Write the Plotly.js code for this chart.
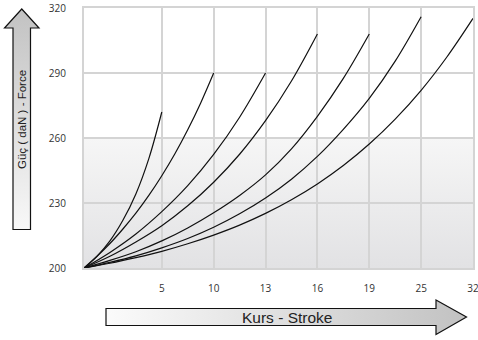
<!DOCTYPE html>
<html>
<head>
<meta charset="utf-8">
<script src="https://cdn.plot.ly/plotly-3.0.1.min.js"></script>
<style>html,body{margin:0;padding:0;background:#fff;}#chart{width:478px;height:340px;}</style>
</head>
<body>
<div id="chart"></div>
<script>
// Stroke tick positions (evenly spaced categories) and their labels
const strokeTicks = [1, 2, 3, 4, 5, 6, 7];
const strokeLabels = ['5', '10', '13', '16', '19', '25', '32'];
const forceTicks = [200, 230, 260, 290, 320];

// Curve data: x = position on the stroke axis, y = force (daN)
const c5x  = [-0.5, -0.25, 0, 0.25, 0.5, 0.75, 1.0];
const c5y  = [200, 205.4, 212.5, 222, 234.2, 250.5, 272];

const c10x = [-0.5, -0.25, 0, 0.25, 0.5, 0.75, 1, 1.25, 1.5, 1.75, 2];
const c10y = [200, 205.4, 211.3, 218, 225.3, 233.5, 242.6, 252.6, 263.8, 276.2, 290];

const c13x = [-0.5, 0, 0.5, 1, 1.5, 2, 2.5, 3];
const c13y = [200, 207.2, 215.7, 226, 238, 252.4, 269.6, 290];

const c16x = [-0.5, 0, 0.5, 1, 1.5, 2, 2.5, 3, 3.5, 4];
const c16y = [200, 205.4, 212, 219.5, 228.7, 239.6, 252.5, 268, 286.3, 308];

const c19x = [-0.5, 0, 0.5, 1, 1.5, 2, 2.5, 3, 3.5, 4, 4.5, 5];
const c19y = [200, 203.5, 207.5, 212.5, 218.5, 225.5, 233.5, 243, 255, 270, 287.5, 308];

const c25x = [-0.5, 0, 0.5, 1, 1.5, 2, 2.5, 3, 3.5, 4, 4.5, 5, 5.5, 6];
const c25y = [200, 202.6, 205.6, 209.3, 213.6, 218.8, 225, 232.3, 241, 251.5, 264, 278.3, 295.5, 316];

const c32x = [-0.5, 0, 0.5, 1, 1.5, 2, 2.5, 3, 3.5, 4, 4.5, 5, 5.5, 6, 6.5, 7];
const c32y = [200, 202.2, 204.8, 207.7, 211.2, 215.2, 219.8, 225.2, 231.5, 238.8, 247.3, 257.2, 268.7, 282, 297.5, 315.2];

const curves = [[c5x, c5y], [c10x, c10y], [c13x, c13y], [c16x, c16y], [c19x, c19y], [c25x, c25y], [c32x, c32y]];

const traces = curves.map(function (c) {
  return {
    type: 'scatter', mode: 'lines', x: c[0], y: c[1],
    line: {color: '#111111', width: 1.2, shape: 'spline', smoothing: 1},
    hoverinfo: 'skip', showlegend: false
  };
});

// Decorative background: plot-area gradient and the two block arrows
const W = 478, H = 340, L = 84, R = 5, T = 8, B = 72;
const pw = W - L - R, ph = H - T - B;
const svg =
  '<svg xmlns="http://www.w3.org/2000/svg" width="' + W + '" height="' + H + '" viewBox="0 0 ' + W + ' ' + H + '">' +
  '<defs>' +
  '<linearGradient id="bg" x1="0" y1="0" x2="0" y2="1">' +
  '<stop offset="0" stop-color="#ffffff"/><stop offset="0.5" stop-color="#ffffff"/>' +
  '<stop offset="0.5" stop-color="#f6f6f6"/><stop offset="1" stop-color="#e2e2e4"/></linearGradient>' +
  '<linearGradient id="va" x1="0" y1="0" x2="0" y2="1">' +
  '<stop offset="0" stop-color="#c2c2c2"/><stop offset="1" stop-color="#f8f8f8"/></linearGradient>' +
  '<linearGradient id="ha" x1="0" y1="0" x2="1" y2="0">' +
  '<stop offset="0" stop-color="#fbfbfb"/><stop offset="1" stop-color="#c2c2c2"/></linearGradient>' +
  '</defs>' +
  '<rect x="' + L + '" y="' + T + '" width="' + pw + '" height="' + ph + '" fill="url(#bg)"/>' +
  '<polygon points="13,229.5 13,28 4.5,28 21.75,9 39,28 30.5,28 30.5,229.5" fill="url(#va)" stroke="#111" stroke-width="1.2"/>' +
  '<polygon points="106,308.5 436,308.5 436,300 466.5,317 436,334.5 436,325.5 106,325.5" fill="url(#ha)" stroke="#111" stroke-width="1.2"/>' +
  '</svg>';
const src = 'data:image/svg+xml;charset=utf-8,' + encodeURIComponent(svg);

function px2x(p) { return (p - L) / pw; }
function py2y(p) { return (H - B - p) / ph; }

const axisCommon = {
  showgrid: true, gridcolor: '#d4d4d4', gridwidth: 2,
  showline: true, mirror: true, linecolor: '#d4d4d4', linewidth: 2,
  zeroline: false, ticks: '', fixedrange: true, automargin: false,
  ticklabeloverflow: 'allow',
  tickfont: {family: 'Open Sans, Noto Sans, sans-serif', size: 10, color: '#333333'}
};

const layout = {
  width: W, height: H,
  margin: {l: L, r: R, t: T, b: B, pad: 0},
  paper_bgcolor: '#ffffff', plot_bgcolor: 'rgba(0,0,0,0)',
  showlegend: false,
  xaxis: Object.assign({}, axisCommon, {
    range: [-0.5, 7], tickmode: 'array', tickvals: strokeTicks, ticktext: strokeLabels,
    ticklabelstandoff: 10
  }),
  yaxis: Object.assign({}, axisCommon, {
    range: [200, 320], tickmode: 'array', tickvals: forceTicks,
    ticktext: forceTicks.map(String), ticklabelstandoff: 14
  }),
  images: [{
    source: src, xref: 'paper', yref: 'paper',
    x: px2x(0), y: py2y(0), sizex: W / pw, sizey: H / ph,
    xanchor: 'left', yanchor: 'top', sizing: 'stretch', layer: 'below'
  }],
  annotations: [
    {text: 'Güç ( daN ) - Force', xref: 'paper', yref: 'paper', x: px2x(22), y: py2y(120),
     textangle: -90, showarrow: false, xanchor: 'center', yanchor: 'middle',
     font: {family: 'Liberation Sans, Arial, sans-serif', size: 11.5, color: '#222222'}},
    {text: 'Kurs - Stroke', xref: 'paper', yref: 'paper', x: px2x(287), y: py2y(317),
     showarrow: false, xanchor: 'center', yanchor: 'middle',
     font: {family: 'Liberation Sans, Arial, sans-serif', size: 15.5, color: '#222222'}}
  ]
};

Plotly.newPlot('chart', traces, layout, {displayModeBar: false, staticPlot: true});
</script>
</body>
</html>
